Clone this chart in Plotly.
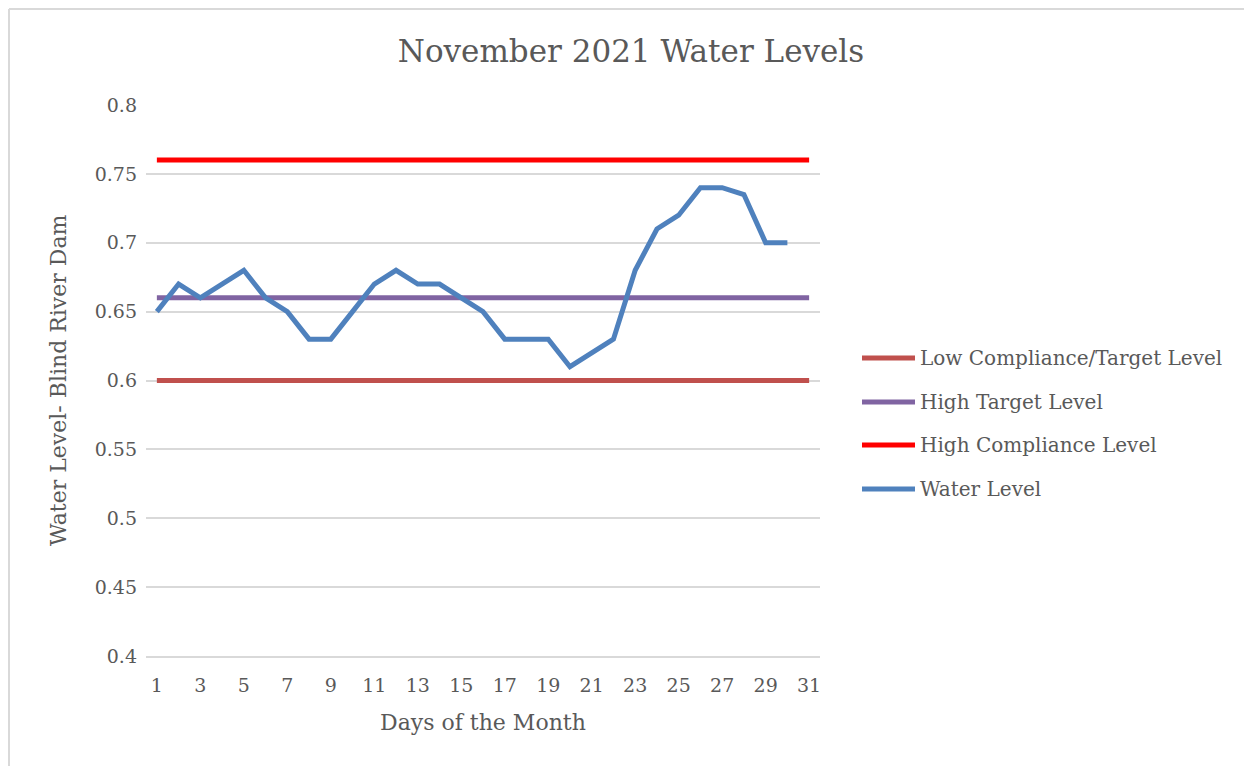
import plotly.graph_objects as go

days = list(range(1, 32))
water_days = list(range(1, 31))
water_level = [0.65, 0.67, 0.66, 0.67, 0.68, 0.66, 0.65, 0.63, 0.63, 0.65,
               0.67, 0.68, 0.67, 0.67, 0.66, 0.65, 0.63, 0.63, 0.63, 0.61,
               0.62, 0.63, 0.68, 0.71, 0.72, 0.74, 0.74, 0.735, 0.70, 0.70]
low_compliance = [0.60] * 31
high_target = [0.66] * 31
high_compliance = [0.76] * 31

series_names = ["Low Compliance/Target Level", "High Target Level",
                "High Compliance Level", "Water Level"]
series_colors = ["#c0504d", "#8064a2", "#ff0000", "#4f81bd"]

OFF = 8  # page offset of the figure (body margin)
W, H = 1252 - OFF, 766 - OFF
# plot area in page pixels
PL, PR, PT, PB = 146, 820, 105, 656
L, R, T, B = PL - OFF, PR - OFF, PT - OFF, PB - OFF
FONT = "DejaVu Serif"
TXT = "#595959"

def px(x):
    return (x - PL) / (PR - PL)

def py(y):
    return (PB - y) / (PB - PT)

fig = go.Figure()
for name, color, xs, ys in zip(series_names, series_colors,
                               [days, days, days, water_days],
                               [low_compliance, high_target, high_compliance, water_level]):
    fig.add_trace(go.Scatter(x=xs, y=ys, mode="lines", name=name,
                             line=dict(color=color, width=5), showlegend=False))

shapes = []
annotations = []
# manual legend
legend_y = [358, 402, 445, 489]
for name, color, ly in zip(series_names, series_colors, legend_y):
    shapes.append(dict(type="line", xref="paper", yref="paper",
                       x0=px(862), x1=px(915), y0=py(ly), y1=py(ly),
                       line=dict(color=color, width=5)))
    annotations.append(dict(text=name, xref="paper", yref="paper",
                            x=px(918), y=py(ly), xanchor="left", yanchor="middle",
                            showarrow=False, font=dict(family=FONT, size=20, color=TXT)))
# axis titles
annotations.append(dict(text="Days of the Month", xref="paper", yref="paper",
                        x=px(483), y=py(722), xanchor="center", yanchor="middle",
                        showarrow=False, font=dict(family=FONT, size=22, color=TXT)))
annotations.append(dict(text="Water Level- Blind River Dam", xref="paper", yref="paper",
                        x=px(58), y=py(380), xanchor="center", yanchor="middle",
                        textangle=-90, showarrow=False,
                        font=dict(family=FONT, size=22, color=TXT)))
# chart border (top and left edges)
shapes.append(dict(type="line", xref="paper", yref="paper",
                   x0=px(9), x1=px(1252), y0=py(9), y1=py(9),
                   line=dict(color="#d9d9d9", width=2)))
shapes.append(dict(type="line", xref="paper", yref="paper",
                   x0=px(9), x1=px(9), y0=py(9), y1=py(766),
                   line=dict(color="#d9d9d9", width=2)))

fig.update_layout(
    width=W, height=H,
    margin=dict(l=L, r=W - R, t=T, b=H - B),
    paper_bgcolor="white", plot_bgcolor="white",
    title=dict(text="November 2021 Water Levels", x=(631 - OFF) / W, xanchor="center",
               y=1 - (51 - OFF) / H, yanchor="middle",
               font=dict(family=FONT, size=31, color=TXT)),
    xaxis=dict(range=[0.5, 31.5], tick0=1, dtick=2, showgrid=False, zeroline=False,
               showline=True, linecolor="#d9d9d9", linewidth=1.5,
               tickfont=dict(family=FONT, size=19, color=TXT), ticklabelstandoff=11),
    yaxis=dict(range=[0.4, 0.8], dtick=0.05, showgrid=True, gridcolor="#d9d9d9",
               gridwidth=1.5, zeroline=False, showline=False,
               tickfont=dict(family=FONT, size=19, color=TXT), ticklabelstandoff=8),
    shapes=shapes, annotations=annotations,
)

fig.write_html("out.html")
